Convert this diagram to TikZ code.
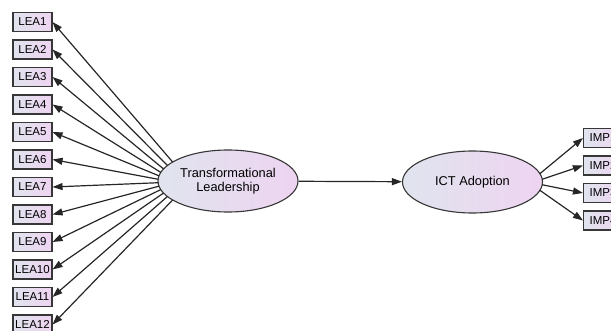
\documentclass[tikz,border=0pt]{standalone}
\usepackage{fontspec}
\setmainfont{Liberation Sans}
\usetikzlibrary{shapes.geometric,arrows.meta}
\definecolor{lblue}{RGB}{224,228,238}
\definecolor{lpink}{RGB}{238,212,241}
\definecolor{edge}{RGB}{55,55,55}
\tikzset{
  obs/.style={draw=edge, line width=1.1pt, left color=lblue, right color=lpink,
    minimum width=39pt, minimum height=19pt, inner sep=0pt,
    font=\fontsize{11.5}{12}\selectfont},
  lat/.style={draw=edge, line width=1.1pt, ellipse, left color=lblue, right color=lpink,
    minimum width=140pt, minimum height=62pt, inner sep=0pt, align=center,
    font=\fontsize{12.8}{14.3}\selectfont},
  arr/.style={draw=black!85, line width=1.2pt, -{Triangle[length=10pt,width=7pt]}}
}
\begin{document}
\begin{tikzpicture}[x=1pt,y=-1pt]
\useasboundingbox (0,0) rectangle (611,331);
\clip (0,0) rectangle (611,331);
\foreach \i in {1,...,12} {
  \node[obs] (LEA\i) at (32.5,{22+(\i-1)*27.5}) {LEA\i};
}
\node[lat] (TL) at (228,181) {Transformational\\Leadership};
\node[lat] (ICT) at (472.5,182) {ICT Adoption};
\foreach \i/\y in {1/138,2/165.5,3/193,4/220.5} {
  \node[obs] (IMP\i) at (603,\y) {IMP\i};
}
% start points spread along the left arc of TL
\foreach \i in {1,...,12} {
  \coordinate (s\i) at ({228-70*sqrt(1-(((\i-6.5)*3.45)/31)^2)}, {181+(\i-6.5)*3.45});
  \draw[arr] (s\i) -- (LEA\i.east);
}
\draw[arr] (TL) -- (ICT);
\foreach \i in {1,...,4} {
  \coordinate (t\i) at ({472.5+70*sqrt(1-(((\i-2.5)*5.5)/30)^2)}, {182+(\i-2.5)*5.5});
  \draw[arr] (t\i) -- (IMP\i.west);
}
\end{tikzpicture}
\end{document}
